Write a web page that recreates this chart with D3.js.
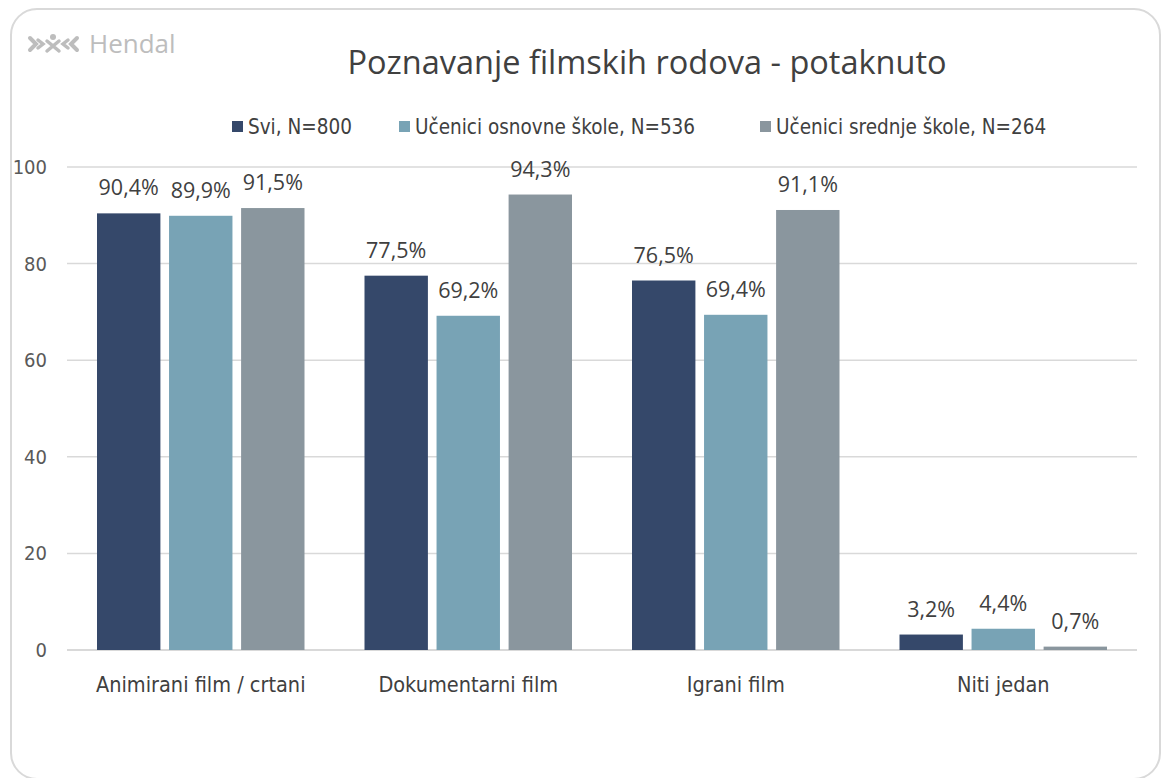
<!DOCTYPE html>
<html>
<head>
<meta charset="utf-8">
<script src="https://cdn.jsdelivr.net/npm/d3@7"></script>
<style>
  body { margin: 0; background: #fff; }
  svg { display: block; }
</style>
</head>
<body>
<div id="chart"></div>
<script>
// data
const categories = ['Animirani film / crtani', 'Dokumentarni film', 'Igrani film', 'Niti jedan'];
const seriesNames = ['Svi, N=800', 'Učenici osnovne škole, N=536', 'Učenici srednje škole, N=264'];
const svi = [90.4, 77.5, 76.5, 3.2];
const osnovne = [89.9, 69.2, 69.4, 4.4];
const srednje = [91.5, 94.3, 91.1, 0.7];
const yTicks = [0, 20, 40, 60, 80, 100];
const colors = ['#35486a', '#78a3b5', '#8a969e'];

const series = [svi, osnovne, srednje];

const W = 1162, H = 778;
const margin = {top: 167, right: 25, bottom: 128, left: 67};
const width = W - margin.left - margin.right;
const height = H - margin.top - margin.bottom;

const narrow = 'DejaVu Sans Condensed, Open Sans, sans-serif';
const wide = 'Open Sans, sans-serif';

const svg = d3.select('#chart').append('svg')
    .attr('width', W)
    .attr('height', H);

// rounded frame
svg.append('rect')
    .attr('x', 11).attr('y', 9)
    .attr('width', 1149).attr('height', 770)
    .attr('rx', 26)
    .attr('fill', 'none')
    .attr('stroke', '#d9d9d9')
    .attr('stroke-width', 2);

// logo
const logo = svg.append('g').attr('transform', 'translate(29,44)')
    .attr('fill', 'none').attr('stroke', '#bdbdbd').attr('stroke-linecap', 'round');
logo.append('path').attr('d', 'M1,-6 L7,0 L1,6').attr('stroke-width', 4);
logo.append('path').attr('d', 'M9,-4 L14,0 L9,4').attr('stroke-width', 3.5);
logo.append('circle').attr('cx', 24).attr('cy', -7).attr('r', 3).attr('fill', '#bdbdbd').attr('stroke', 'none');
logo.append('path').attr('d', 'M18,-3 L30,7 M30,-3 L18,7').attr('stroke-width', 3.5);
logo.append('path').attr('d', 'M39,-4 L34,0 L39,4').attr('stroke-width', 3.5);
logo.append('path').attr('d', 'M48,-6 L42,0 L48,6').attr('stroke-width', 4);
logo.append('text')
    .attr('x', 60).attr('y', 9)
    .attr('font-family', wide)
    .attr('font-size', 26)
    .attr('fill', '#bdbdbd')
    .attr('stroke', 'none')
    .text('Hendal');

// title
svg.append('text')
    .attr('x', 647).attr('y', 74)
    .attr('text-anchor', 'middle')
    .attr('font-family', wide)
    .attr('font-size', 32.5)
    .attr('fill', '#404040')
    .text('Poznavanje filmskih rodova - potaknuto');

// legend
const legendX = [232, 399, 760];
const legend = svg.append('g').attr('font-family', narrow);
seriesNames.forEach((name, i) => {
  const g = legend.append('g').attr('transform', `translate(${legendX[i]},127)`);
  g.append('rect').attr('x', 0).attr('y', -6).attr('width', 11).attr('height', 11).attr('fill', colors[i]);
  g.append('text').attr('x', 16).attr('y', 7)
      .attr('font-size', 20.5).attr('fill', '#404040').text(name);
});

const g = svg.append('g').attr('transform', `translate(${margin.left},${margin.top})`);

const x0 = d3.scaleBand().domain(categories).range([0, width]);
const x1 = d3.scaleBand().domain(d3.range(series.length)).range([30, x0.bandwidth() - 30]).paddingInner(0.12);
const y = d3.scaleLinear().domain([0, 100]).range([height, 0]);

// gridlines
g.append('g')
    .selectAll('line')
    .data(yTicks)
    .join('line')
    .attr('x1', 0).attr('x2', width)
    .attr('y1', d => y(d)).attr('y2', d => y(d))
    .attr('stroke', '#d9d9d9')
    .attr('stroke-width', d => d === 0 ? 2 : 1.5);

// y axis labels
const yAxis = g.append('g')
    .call(d3.axisLeft(y).tickValues(yTicks).tickSize(0).tickPadding(20))
    .attr('font-family', narrow)
    .attr('font-size', 20);
yAxis.select('.domain').remove();
yAxis.selectAll('text').attr('fill', '#595959');

// bars
const groups = g.selectAll('.grp')
    .data(categories)
    .join('g')
    .attr('class', 'grp')
    .attr('transform', d => `translate(${x0(d)},0)`);

groups.selectAll('rect')
    .data((d, ci) => series.map((s, si) => ({si, v: s[ci]})))
    .join('rect')
    .attr('x', d => x1(d.si))
    .attr('width', x1.bandwidth())
    .attr('y', d => y(d.v))
    .attr('height', d => y(0) - y(d.v))
    .attr('fill', d => colors[d.si]);

groups.selectAll('text.val')
    .data((d, ci) => series.map((s, si) => ({si, v: s[ci]})))
    .join('text')
    .attr('class', 'val')
    .attr('x', d => x1(d.si) + x1.bandwidth() / 2)
    .attr('y', d => y(d.v) - 18)
    .attr('text-anchor', 'middle')
    .attr('font-family', wide)
    .attr('font-size', 21.5)
    .attr('fill', '#404040')
    .text(d => d.v.toFixed(1).replace('.', ',') + '%');

// x axis labels
const xAxis = g.append('g')
    .attr('transform', `translate(0,${height})`)
    .call(d3.axisBottom(x0).tickSize(0).tickPadding(27))
    .attr('font-family', narrow)
    .attr('font-size', 21.5);
xAxis.select('.domain').remove();
xAxis.selectAll('text').attr('fill', '#404040');
</script>
</body>
</html>
